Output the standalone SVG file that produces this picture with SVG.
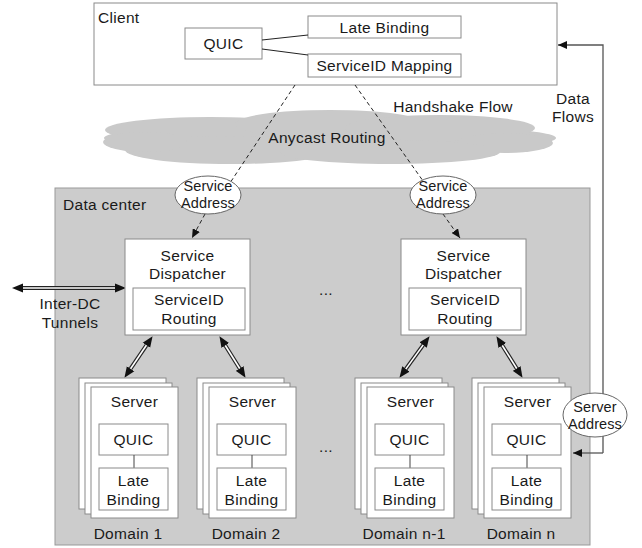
<svg xmlns="http://www.w3.org/2000/svg" width="642" height="548" viewBox="0 0 642 548">
<style>
text{font-family:"Liberation Sans",Arial,sans-serif;font-size:15.5px;letter-spacing:0.3px;fill:#1a1a1a}
.c{text-anchor:middle}
.s{font-size:14.5px;letter-spacing:0.1px}
.box{fill:#fff;stroke:#8a8a8a;stroke-width:1}
.dash{fill:none;stroke:#222;stroke-width:1;stroke-dasharray:4,3}
.dbl{fill:none;stroke:#222;stroke-width:4;marker-start:url(#ah);marker-end:url(#ah)}
.dbli{fill:none;stroke:#fff;stroke-width:1.6}
.flow{fill:none;stroke:#555;stroke-width:1.3}
</style>
<defs>
<marker id="ah" markerUnits="userSpaceOnUse" markerWidth="12" markerHeight="10" refX="0" refY="5" orient="auto-start-reverse" viewBox="0 0 12 10">
<path d="M0,0.5 L11,5 L0,9.5 z" fill="#111"/>
</marker>
<marker id="ahd" markerUnits="userSpaceOnUse" markerWidth="10" markerHeight="8" refX="9" refY="4" orient="auto" viewBox="0 0 10 8">
<path d="M0,0 L9,4 L0,8 z" fill="#111"/>
</marker>
<g id="server">
<rect x="-12" y="-9" width="87" height="131" class="box"/>
<rect x="-6" y="-4" width="87" height="131" class="box"/>
<rect x="0" y="0" width="87" height="131" class="box"/>
<text x="43.5" y="20" class="c">Server</text>
<rect x="8" y="37" width="69" height="31" class="box"/>
<text x="42.5" y="58" class="c">QUIC</text>
<line x1="43" y1="68" x2="43" y2="81" stroke="#444"/>
<rect x="8" y="81" width="69" height="42" class="box"/>
<text x="42.5" y="99" class="c">Late</text>
<text x="42.5" y="118" class="c">Binding</text>
</g>
</defs>

<g id="client">
<rect x="94" y="3" width="463" height="82" class="box"/>
<text x="98" y="23">Client</text>
<rect x="185" y="28" width="77" height="31" class="box"/>
<text x="223.5" y="49" class="c">QUIC</text>
<rect x="308" y="16" width="153" height="22" class="box"/>
<text x="384.5" y="33" class="c">Late Binding</text>
<rect x="308" y="54" width="153" height="23" class="box"/>
<text x="384.5" y="71" class="c">ServiceID Mapping</text>
<line x1="262" y1="40" x2="308" y2="35" stroke="#222"/>
<line x1="262" y1="49" x2="308" y2="55" stroke="#222"/>
</g>

<g id="cloud" fill="#c9c9c9">
<ellipse cx="330" cy="138" rx="226" ry="15"/>
<ellipse cx="210" cy="130" rx="105" ry="13"/>
<ellipse cx="330" cy="124" rx="95" ry="14"/>
<ellipse cx="440" cy="128" rx="95" ry="13"/>
<ellipse cx="505" cy="143" rx="48" ry="10"/>
<ellipse cx="230" cy="150" rx="105" ry="14"/>
<ellipse cx="390" cy="152" rx="110" ry="12"/>
<ellipse cx="145" cy="142" rx="42" ry="10"/>
<text x="327" y="143" class="c">Anycast Routing</text>
</g>
<text x="453" y="112" class="c">Handshake Flow</text>

<g id="datacenter">
<rect x="55" y="188" width="535" height="357" fill="#cccccc" stroke="#999"/>
<text x="63" y="210">Data center</text>
</g>

<g id="connectors">
<line x1="295" y1="85" x2="222" y2="195" class="dash"/>
<line x1="355" y1="85" x2="433" y2="195" class="dash"/>
<line x1="205" y1="214" x2="192" y2="238" class="dash" marker-end="url(#ahd)"/>
<line x1="443" y1="214" x2="460" y2="238" class="dash" marker-end="url(#ahd)"/>
<path d="M23,288 L115,288" class="dbl"/><path d="M23,288 L115,288" class="dbli"/>
<path d="M146.4,345.3 L130.6,368.7" class="dbl"/><path d="M146.4,345.3 L130.6,368.7" class="dbli"/>
<path d="M225.3,345.5 L239.7,368.5" class="dbl"/><path d="M225.3,345.5 L239.7,368.5" class="dbli"/>
<path d="M423.1,345.1 L405.9,368.9" class="dbl"/><path d="M423.1,345.1 L405.9,368.9" class="dbli"/>
<path d="M502.3,345.5 L516.7,368.5" class="dbl"/><path d="M502.3,345.5 L516.7,368.5" class="dbli"/>
<path d="M603,453 L603,45 L558,45" class="flow" marker-end="url(#ahd)"/>
<path d="M603,453 L573,453" class="flow" marker-end="url(#ahd)"/>
</g>

<g id="sa1">
<ellipse cx="208" cy="195" rx="33" ry="19" fill="#fff" stroke="#666"/>
<text x="208" y="191" class="c s">Service</text>
<text x="208" y="208" class="c s">Address</text>
</g>
<g id="sa2">
<ellipse cx="443" cy="195" rx="33" ry="19" fill="#fff" stroke="#666"/>
<text x="443" y="191" class="c s">Service</text>
<text x="443" y="208" class="c s">Address</text>
</g>

<g id="dispatcher1">
<rect x="125" y="239" width="125" height="96" class="box"/>
<text x="187.5" y="261" class="c">Service</text>
<text x="187.5" y="279" class="c">Dispatcher</text>
<rect x="133" y="288" width="112" height="42" class="box"/>
<text x="189" y="305" class="c">ServiceID</text>
<text x="189" y="324" class="c">Routing</text>
</g>
<g id="dispatcher2">
<rect x="401" y="239" width="125" height="96" class="box"/>
<text x="463.5" y="261" class="c">Service</text>
<text x="463.5" y="279" class="c">Dispatcher</text>
<rect x="409" y="288" width="112" height="42" class="box"/>
<text x="465" y="305" class="c">ServiceID</text>
<text x="465" y="324" class="c">Routing</text>
</g>

<text x="70" y="309" class="c">Inter-DC</text>
<text x="70" y="328" class="c">Tunnels</text>
<text x="326" y="295" class="c">...</text>
<text x="326" y="452" class="c">...</text>

<g id="domain1"><use href="#server" x="91" y="387"/><text x="128" y="539" class="c">Domain 1</text></g>
<g id="domain2"><use href="#server" x="209" y="387"/><text x="246" y="539" class="c">Domain 2</text></g>
<g id="domainn1"><use href="#server" x="367" y="387"/><text x="404" y="539" class="c">Domain n-1</text></g>
<g id="domainn"><use href="#server" x="484" y="387"/><text x="521" y="539" class="c">Domain n</text></g>

<g id="serveraddr">
<ellipse cx="595" cy="415" rx="32" ry="22" fill="#fff" stroke="#666"/>
<text x="595" y="412" class="c s">Server</text>
<text x="595" y="429" class="c s">Address</text>
</g>

<text x="573" y="104" class="c">Data</text>
<text x="573" y="122" class="c">Flows</text>
</svg>
